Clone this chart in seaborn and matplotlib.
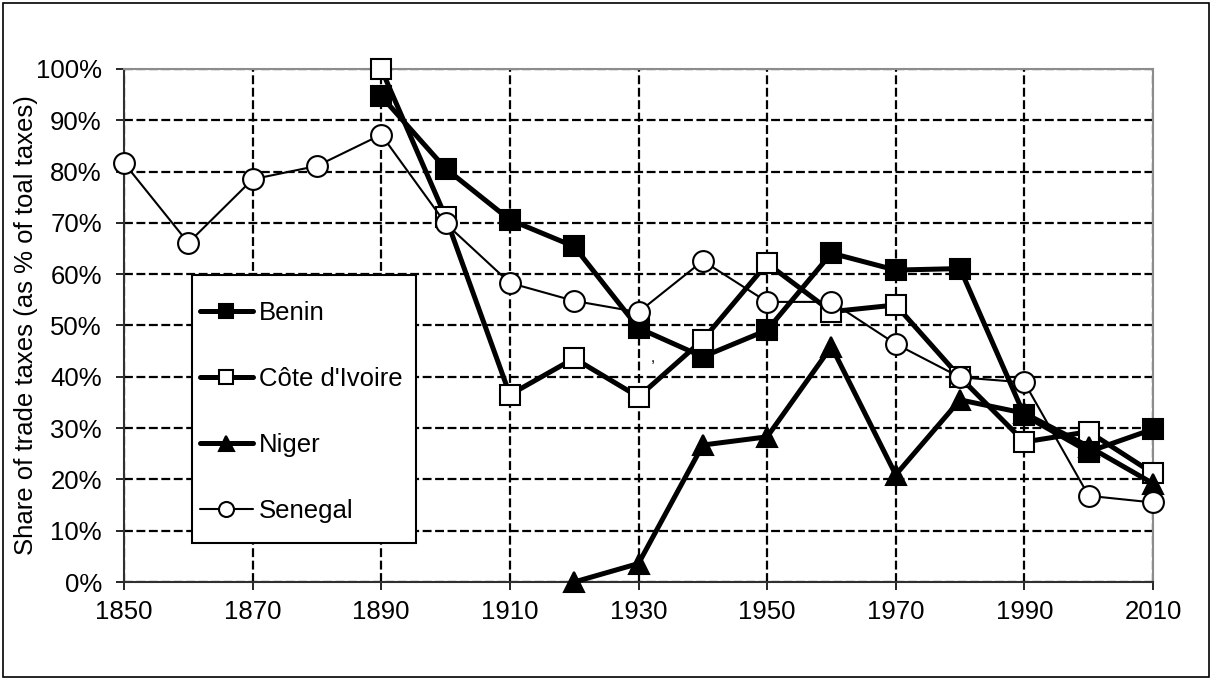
import matplotlib
matplotlib.use("Agg")
import matplotlib.pyplot as plt
import seaborn as sns
import numpy as np
from matplotlib.ticker import PercentFormatter, MultipleLocator
from matplotlib.patches import Rectangle

# ---- data ----
benin_years = [1890, 1900, 1910, 1920, 1930, 1940, 1950, 1960, 1970, 1980, 1990, 2000, 2010]
benin_vals = [0.947, 0.806, 0.706, 0.654, 0.495, 0.439, 0.491, 0.641, 0.608, 0.611, 0.325, 0.254, 0.298]

cote_years = [1890, 1900, 1910, 1920, 1930, 1940, 1950, 1960, 1970, 1980, 1990, 2000, 2010]
cote_vals = [1.000, 0.712, 0.365, 0.436, 0.361, 0.472, 0.621, 0.527, 0.540, 0.399, 0.273, 0.293, 0.212]

niger_years = [1920, 1930, 1940, 1950, 1960, 1970, 1980, 1990, 2000, 2010]
niger_vals = [0.000, 0.036, 0.267, 0.283, 0.459, 0.209, 0.355, 0.329, 0.264, 0.192]

senegal_years = [1850, 1860, 1870, 1880, 1890, 1900, 1910, 1920, 1930, 1940, 1950, 1960, 1970, 1980, 1990, 2000, 2010]
senegal_vals = [0.817, 0.661, 0.785, 0.811, 0.872, 0.699, 0.583, 0.548, 0.526, 0.626, 0.546, 0.546, 0.464, 0.399, 0.389, 0.168, 0.155]

series_names = ["Benin", "Côte d'Ivoire", "Niger", "Senegal"]
x_ticks = list(range(1850, 2011, 20))
y_label = "Share of trade taxes (as % of toal taxes)"

sns.set_style("white")
plt.rcParams['font.family'] = ['Liberation Sans', 'DejaVu Sans']
plt.rcParams['text.color'] = 'black'
plt.rcParams['axes.labelcolor'] = 'black'
plt.rcParams['xtick.color'] = 'black'
plt.rcParams['ytick.color'] = 'black'

W, H = 1212, 680
fig = plt.figure(figsize=(W/100, H/100), dpi=100)
L, R, T, B = 124, 1153, 69, 582
ax = fig.add_axes([L/W, 1-B/H, (R-L)/W, (B-T)/H])
aw, ah = R - L, B - T

FS = 18.5

styles = [
    (benin_years, benin_vals, "s", "black", 3.6, 14.5),
    (cote_years, cote_vals, "s", "white", 3.6, 14.5),
    (niger_years, niger_vals, "^", "black", 3.6, 15),
    (senegal_years, senegal_vals, "o", "white", 1.5, 15),
]
for name, (xs, ys, mk, fc, lw, ms) in zip(series_names, styles):
    sns.lineplot(x=xs, y=ys, ax=ax, color="black", linewidth=lw, marker=mk,
                 markersize=ms, markerfacecolor=fc, markeredgecolor="black",
                 markeredgewidth=1.5, label=name, clip_on=False, zorder=3)

ax.set_xlim(1850, 2010)
ax.set_ylim(0, 1)
ax.set_xticks(x_ticks)
ax.yaxis.set_major_locator(MultipleLocator(0.1))
ax.yaxis.set_major_formatter(PercentFormatter(1.0, decimals=0))
ax.tick_params(axis="both", direction="out", length=6, width=1.2, labelsize=FS,
               colors="black", left=True, bottom=True)
ax.tick_params(axis="y", pad=10)
ax.tick_params(axis="x", pad=7)
ax.grid(True, color="black", linestyle=(0, (4, 1.6)), linewidth=1.6, zorder=1)
ax.set_axisbelow(True)
for s in ["top", "right"]:
    ax.spines[s].set_color("#8c8c8c")
    ax.spines[s].set_linewidth(1.5)
for s in ["left", "bottom"]:
    ax.spines[s].set_color("#303030")
    ax.spines[s].set_linewidth(1.5)
ax.set_xlabel("")
ax.set_ylabel(y_label, fontsize=FS, color="black")
ax.yaxis.set_label_coords(-0.084, 0.5)

ax.text(1932.2, 0.437, ",", fontsize=11, ha="center", va="center", color="black")

# legend frame box (drawn separately so vertical/horizontal padding can differ)
bx0, by0, bx1, by1 = 192, 275, 416, 543
frame = Rectangle(((bx0-L)/aw, (B-by1)/ah), (bx1-bx0)/aw, (by1-by0)/ah,
                  transform=ax.transAxes, facecolor="white", edgecolor="black",
                  linewidth=1.5, zorder=4, clip_on=False)
ax.add_patch(frame)

leg = ax.legend(loc="upper left", bbox_to_anchor=((200-L)/aw, (B-301)/ah),
                fontsize=FS, frameon=False, handlelength=2.05, handletextpad=0.25,
                labelspacing=1.63, borderpad=0.0, markerscale=0.72, borderaxespad=0)
leg.set_zorder(5)
for t in leg.get_texts():
    t.set_color("black")

fig.patches.append(Rectangle((3/W, 3/H), 1206/W, 674/H, transform=fig.transFigure,
                             fill=False, edgecolor="black", linewidth=1.2))

fig.savefig("out.png", dpi=100, facecolor="white")
